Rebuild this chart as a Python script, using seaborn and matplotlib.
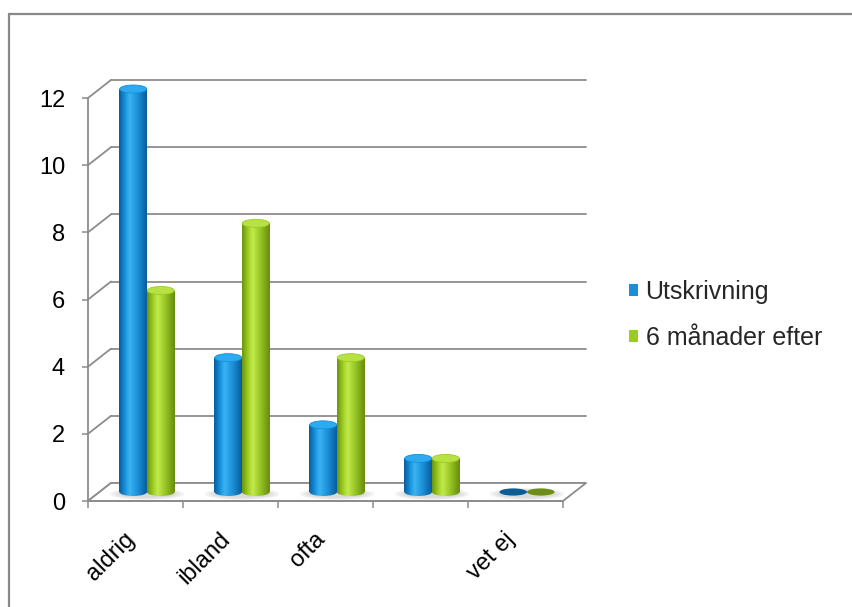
import numpy as np
import pandas as pd
import matplotlib
matplotlib.use("Agg")
import matplotlib.pyplot as plt
import seaborn as sns
from matplotlib import transforms
from matplotlib.patches import Ellipse, Polygon, Patch
from matplotlib.lines import Line2D
from matplotlib.colors import LinearSegmentedColormap

# -------------------------------------------------------
# Data
# -------------------------------------------------------
categories = ["aldrig", "ibland", "ofta", "", "vet ej"]
series = ["Utskrivning", "6 månader efter"]
utskrivning = [12, 4, 2, 1, 0]
sex_manader_efter = [6, 8, 4, 1, 0]
y_ticks = [0, 2, 4, 6, 8, 10, 12]

# -------------------------------------------------------
# Layout / style
# -------------------------------------------------------
DPI = 100
W, H = 852, 607
AX_LEFT, AX_RIGHT = 88, 563      # front plane, pixels
AX_TOP, AX_BOTTOM = 98, 501
BACK = (23, 18)                  # depth offset of the back wall, pixels
MID = (11.5, 9)                  # bars sit half way in
GRID = "#8c8c8c"
FS = 17

body_colors = {
    "Utskrivning": ["#0a5c9a", "#1590da", "#3cb3f2", "#1a8fd8", "#0a5c9a"],
    "6 månader efter": ["#6a9410", "#9bcb22", "#c3ea4c", "#94c222", "#678c10"],
}
cap_colors = {"Utskrivning": "#2eaaf0", "6 månader efter": "#b8e244"}
flat_colors = {"Utskrivning": "#0b5e94", "6 månader efter": "#6c8e16"}
legend_colors = {"Utskrivning": "#1a8fd8", "6 månader efter": "#9ccb22"}

sns.set_theme(style="white")
plt.rcParams["font.family"] = ["Liberation Sans", "DejaVu Sans"]

fig = plt.figure(figsize=(W / DPI, H / DPI), dpi=DPI)
ax = fig.add_axes([AX_LEFT / W, 1 - AX_BOTTOM / H,
                   (AX_RIGHT - AX_LEFT) / W, (AX_BOTTOM - AX_TOP) / H])

df = pd.DataFrame({
    "kategori": categories * 2,
    "serie": np.repeat(series, len(categories)),
    "antal": utskrivning + sex_manader_efter,
})

sns.barplot(data=df, x="kategori", y="antal", hue="serie", order=categories,
            hue_order=series, palette=legend_colors, width=0.58, gap=0,
            legend=False, ax=ax)

n = len(categories)
ymax = y_ticks[-1]
ux = (AX_RIGHT - AX_LEFT) / n          # px per category
uy = (AX_BOTTOM - AX_TOP) / ymax       # px per unit


def shifted(dx, dy):
    return ax.transData + transforms.ScaledTranslation(dx / DPI, dy / DPI, fig.dpi_scale_trans)


t_back = shifted(*BACK)
t_mid = shifted(*MID)

# back wall gridlines + left wall diagonals
for v in y_ticks:
    ax.plot([-0.5, n - 0.5], [v, v], transform=t_back, color=GRID, lw=1.3,
            clip_on=False, zorder=0.5)
    ax.plot([-0.5, -0.5 + BACK[0] / ux], [v, v + BACK[1] / uy], color=GRID,
            lw=1.3, clip_on=False, zorder=0.5)

# floor
floor = Polygon([(-0.5, 0), (n - 0.5, 0),
                 (n - 0.5 + BACK[0] / ux, BACK[1] / uy),
                 (-0.5 + BACK[0] / ux, BACK[1] / uy)],
                closed=True, fc="white", ec=GRID, lw=1.3, zorder=0.8, clip_on=False)
ax.add_patch(floor)

# soft shadows under the groups
for i in range(n):
    for k, a in enumerate([0.12, 0.12, 0.15]):
        sh = Ellipse((i, 0), 0.78 - 0.08 * k, (12 - 2 * k) / uy,
                     transform=shifted(MID[0], MID[1] - 2), fc="#9a9a9a",
                     ec="none", alpha=a, zorder=0.9, clip_on=False)
        ax.add_patch(sh)

# cylinders
grad = np.linspace(0, 1, 64).reshape(1, -1)
eh = 8 / uy
bars = list(ax.patches)[: 2 * n]
bar_series = np.repeat(series, n)
for p, s in zip(bars, bar_series):
    x0, w, h = p.get_x(), p.get_width(), p.get_height()
    xc = x0 + w / 2
    p.set_transform(t_mid)
    p.set_visible(False)
    cmap = LinearSegmentedColormap.from_list(
        s, list(zip([0, 0.2, 0.38, 0.68, 1], body_colors[s])))
    if h > 0:
        im = ax.imshow(grad, cmap=cmap, extent=(x0, x0 + w, 0, h),
                       transform=t_mid, aspect="auto", interpolation="bicubic",
                       zorder=2)
        im.set_clip_path(p)
        bottom = Ellipse((xc, 0), w, eh, transform=t_mid)
        im2 = ax.imshow(grad, cmap=cmap, extent=(x0, x0 + w, -eh / 2, 0),
                        transform=t_mid, aspect="auto", interpolation="bicubic",
                        zorder=2)
        im2.set_clip_path(bottom)
        cap = Ellipse((xc, h), w * 0.98, eh, transform=t_mid,
                      fc=cap_colors[s], ec=body_colors[s][1], lw=0.6, zorder=3)
        ax.add_patch(cap)
        cap.set_clip_on(False)
    else:
        flat = Ellipse((xc, 0), w, eh * 0.9, transform=t_mid,
                       fc=flat_colors[s], ec="none", zorder=3)
        ax.add_patch(flat)
        flat.set_clip_on(False)

# axes
ax.set_xlim(-0.5, n - 0.5)
ax.set_ylim(0, ymax)
ax.set_yticks(y_ticks)
ax.set_xticks(np.arange(-0.5, n, 1.0))
ax.set_xticklabels([])
ax.set_xlabel("")
ax.set_ylabel("")
for side in ["top", "right"]:
    ax.spines[side].set_visible(False)
for side in ["left", "bottom"]:
    ax.spines[side].set_color(GRID)
    ax.spines[side].set_linewidth(1.3)
ax.patch.set_alpha(0)
ax.tick_params(axis="y", left=True, length=4.5, width=1.1, color=GRID,
               pad=12, labelsize=FS, labelcolor="black")
ax.tick_params(axis="x", bottom=True, length=5, width=1.1, color=GRID)

for i, c in enumerate(categories):
    ax.text(i, 0, c, transform=shifted(-4, -35), ha="right", va="center",
            rotation=45, rotation_mode="anchor", fontsize=FS, color="black",
            clip_on=False)

handles = [Patch(fc=legend_colors[s], ec="none") for s in series]
fig.legend(handles, series, loc="center left",
           bbox_to_anchor=(629 / W, 1 - 315 / H), frameon=False, fontsize=18,
           handlelength=0.36, handleheight=0.36, handletextpad=0.3,
           labelspacing=0.85, borderpad=0, borderaxespad=0)

# outer chart border (cropped on right/bottom)
fig.add_artist(Line2D([9 / W, 9 / W], [0, 1 - 14 / H], color="#888888", lw=1.6,
                      transform=fig.transFigure))
fig.add_artist(Line2D([9 / W, 1], [1 - 14 / H, 1 - 14 / H], color="#888888",
                      lw=1.6, transform=fig.transFigure))

fig.savefig("out.png", dpi=DPI)
